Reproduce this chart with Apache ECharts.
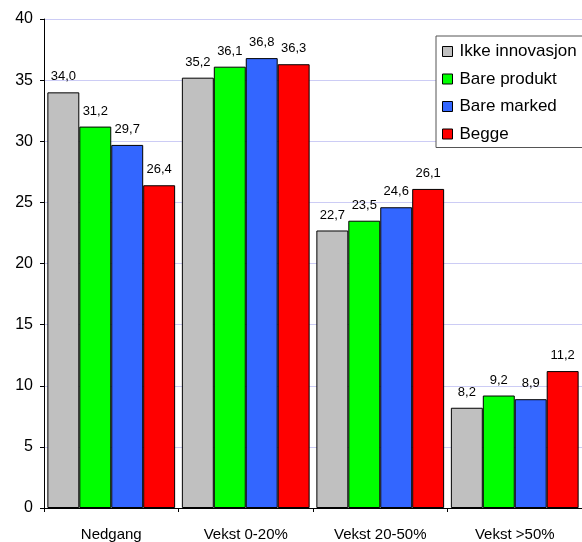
<!DOCTYPE html>
<html>
<head>
<meta charset="utf-8">
<script src="https://cdn.jsdelivr.net/npm/echarts@6/dist/echarts.min.js"></script>
<style>html,body{margin:0;padding:0;background:#fff;}#c{width:582px;height:542px;}</style>
</head>
<body>
<div id="c"></div>
<script>
var categories = ['Nedgang', 'Vekst 0-20%', 'Vekst 20-50%', 'Vekst >50%'];
var seriesNames = ['Ikke innovasjon', 'Bare produkt', 'Bare marked', 'Begge'];
var ikkeInnovasjon = [34.0, 35.2, 22.7, 8.2];
var bareProdukt = [31.2, 36.1, 23.5, 9.2];
var bareMarked = [29.7, 36.8, 24.6, 8.9];
var begge = [26.4, 36.3, 26.1, 11.2];
var yTicks = [0, 5, 10, 15, 20, 25, 30, 35, 40];
var colors = ['#c0c0c0', '#00ff00', '#3366ff', '#ff0000'];

var FONT = '"Liberation Sans", Arial, sans-serif';
var seriesData = [ikkeInnovasjon, bareProdukt, bareMarked, begge];

var chart = echarts.init(document.getElementById('c'), null, {renderer: 'canvas'});
chart.setOption({
  animation: false,
  backgroundColor: '#ffffff',
  textStyle: {fontFamily: FONT},
  grid: {left: 44, top: 19, width: 544, height: 492, containLabel: false},
  legend: {
    orient: 'vertical',
    left: 436,
    top: 36,
    padding: [7, 40, 5, 6],
    itemWidth: 10,
    itemHeight: 10,
    itemGap: 10.5,
    backgroundColor: '#ffffff',
    borderColor: '#555555',
    borderWidth: 1,
    textStyle: {fontFamily: FONT, fontSize: 17, lineHeight: 17, color: '#000', padding: [0, 0, 0, 2]},
    data: seriesNames.map(function (n, i) {
      return {name: n, icon: 'rect', itemStyle: {color: colors[i], borderColor: '#000', borderWidth: 1}};
    })
  },
  xAxis: {
    type: 'category',
    data: categories,
    boundaryGap: true,
    axisLine: {lineStyle: {color: '#000', width: 1}},
    axisTick: {show: true, alignWithLabel: false, length: 4, lineStyle: {color: '#000'}},
    axisLabel: {fontFamily: FONT, fontSize: 15, color: '#000', margin: 19}
  },
  yAxis: {
    type: 'value',
    min: yTicks[0],
    max: yTicks[yTicks.length - 1],
    interval: yTicks[1] - yTicks[0],
    axisLine: {show: true, lineStyle: {color: '#000', width: 1}},
    axisTick: {show: true, length: 4, lineStyle: {color: '#000'}},
    axisLabel: {fontFamily: FONT, fontSize: 16, color: '#000', margin: 11},
    splitLine: {show: true, lineStyle: {color: '#ccccf5', width: 1}}
  },
  series: seriesNames.map(function (n, i) {
    return {
      name: n,
      type: 'bar',
      data: seriesData[i],
      barGap: '0%',
      barCategoryGap: '5%',
      itemStyle: {color: colors[i], borderColor: '#000', borderWidth: 1},
      label: {
        show: true,
        position: 'top',
        distance: 9,
        fontFamily: FONT,
        fontSize: 13,
        color: '#000',
        formatter: function (p) { return p.value.toFixed(1).replace('.', ','); }
      }
    };
  })
});
</script>
</body>
</html>
